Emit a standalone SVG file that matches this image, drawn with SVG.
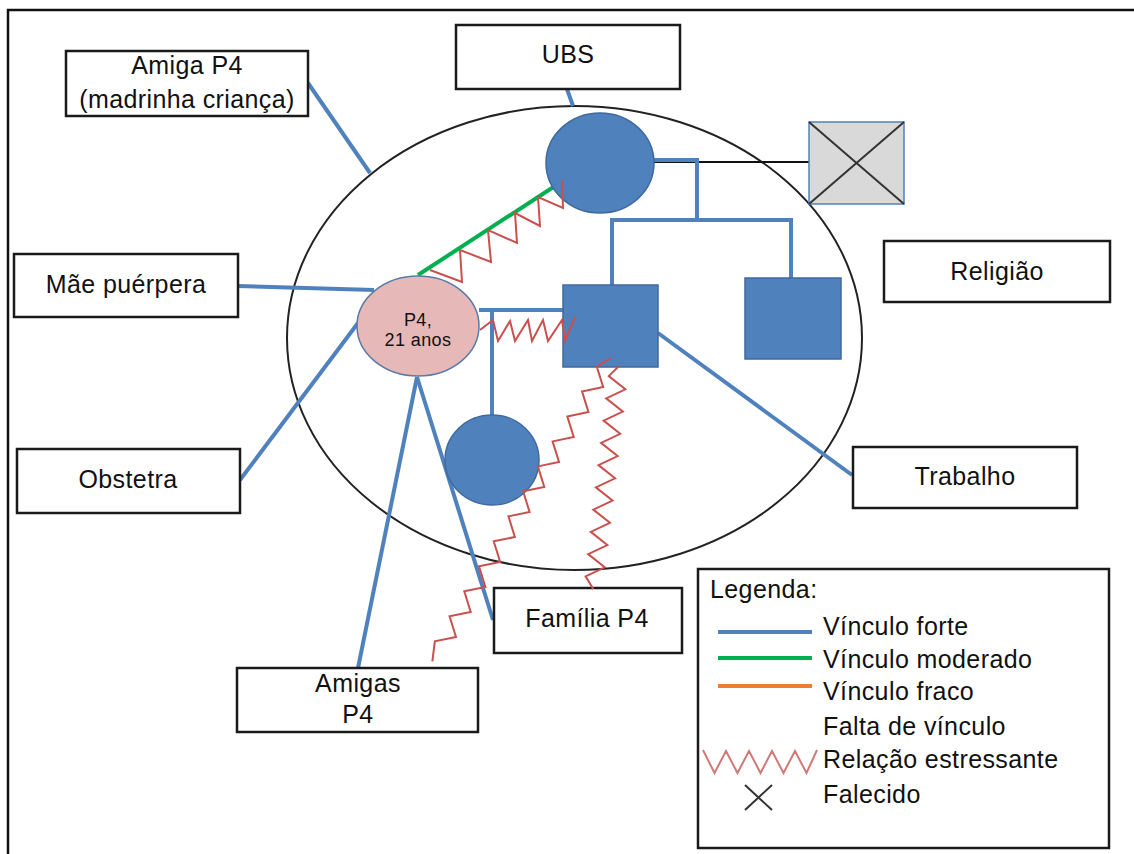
<svg xmlns="http://www.w3.org/2000/svg" width="1134" height="854" viewBox="0 0 1134 854">
  <style>
    text { font-family: "Liberation Sans", Arial, sans-serif; font-size: 25px; fill: #111; letter-spacing: 0.4px; }
    .mid { text-anchor: middle; }
    .box { fill: #fff; stroke: #1a1a1a; stroke-width: 2.5; }
    .strong { stroke: #4f81bd; stroke-width: 4; fill: none; stroke-linecap: butt; }
    .moderate { stroke: #00b050; stroke-width: 4; fill: none; }
    .weak { stroke: #ed7d31; stroke-width: 4; fill: none; }
    .stress { stroke: #c9504d; stroke-width: 2; fill: none; stroke-linejoin: miter; }
    .member { fill: #4f81bd; stroke: #3f6a9e; stroke-width: 1.5; }
  </style>

  <!-- page frame and household boundary -->
  <rect x="8" y="10" width="1200" height="900" fill="none" stroke="#111" stroke-width="2.5"/>
  <ellipse cx="574.5" cy="338" rx="287.5" ry="232" fill="none" stroke="#222" stroke-width="2"/>

  <!-- links -->
  <g id="connectors">
    <line class="strong" x1="308" y1="83" x2="370" y2="173"/>
    <line class="strong" x1="567" y1="89" x2="573" y2="106"/>
    <line class="strong" x1="238" y1="286" x2="374" y2="290"/>
    <line class="strong" x1="240" y1="480" x2="358" y2="323"/>
    <line class="strong" x1="417" y1="377" x2="358" y2="668"/>
    <line class="strong" x1="417" y1="377" x2="493" y2="620"/>
    <line class="strong" x1="479" y1="310" x2="563" y2="310"/>
    <line class="strong" x1="492" y1="308" x2="492" y2="416"/>
    <line class="strong" x1="658" y1="333" x2="852" y2="475"/>
    <!-- family tree -->
    <line x1="654" y1="162" x2="809" y2="162" stroke="#111" stroke-width="2"/>
    <line class="strong" x1="654" y1="160" x2="699" y2="160"/>
    <line class="strong" x1="697" y1="158" x2="697" y2="222"/>
    <line class="strong" x1="610" y1="220" x2="793" y2="220"/>
    <line class="strong" x1="612" y1="218" x2="612" y2="286"/>
    <line class="strong" x1="791" y1="218" x2="791" y2="279"/>
    <line class="moderate" x1="418" y1="275" x2="555" y2="186"/>
  </g>

  <!-- people -->
  <g id="ubs-mother">
    <ellipse class="member" cx="600" cy="163" rx="54" ry="50"/>
  </g>
  <g id="deceased">
    <rect x="809" y="122" width="95" height="82" fill="#d9d9d9" stroke="#4f81bd" stroke-width="1.5"/>
    <line x1="809" y1="122" x2="904" y2="204" stroke="#333" stroke-width="2"/>
    <line x1="904" y1="122" x2="809" y2="204" stroke="#333" stroke-width="2"/>
  </g>
  <g id="partner">
    <rect class="member" x="563" y="285" width="95" height="82"/>
  </g>
  <g id="brother">
    <rect class="member" x="745" y="278" width="96" height="81"/>
  </g>
  <g id="child">
    <ellipse class="member" cx="492" cy="460" rx="47" ry="45"/>
  </g>
  <g id="p4">
    <ellipse cx="418" cy="326" rx="61" ry="50" fill="#e6b9b8" stroke="#5a7aa8" stroke-width="1.5"/>
    <text class="mid" x="418" y="326" style="font-size:18px">P4,</text>
    <text class="mid" x="418" y="346" style="font-size:18px">21 anos</text>
  </g>

  <!-- external boxes -->
  <g id="amiga">
    <rect class="box" x="66" y="51" width="242" height="65"/>
    <text class="mid" x="187" y="74">Amiga P4</text>
    <text class="mid" x="187" y="108">(madrinha criança)</text>
  </g>
  <g id="ubs">
    <rect class="box" x="456" y="25" width="224" height="64"/>
    <text class="mid" x="568" y="63">UBS</text>
  </g>
  <g id="mae">
    <rect class="box" x="14" y="254" width="224" height="63"/>
    <text class="mid" x="126" y="293">Mãe puérpera</text>
  </g>
  <g id="obstetra">
    <rect class="box" x="17" y="449" width="223" height="64"/>
    <text class="mid" x="128" y="488">Obstetra</text>
  </g>
  <g id="amigas">
    <rect class="box" x="237" y="668" width="241" height="64"/>
    <text class="mid" x="358" y="692">Amigas</text>
    <text class="mid" x="358" y="723">P4</text>
  </g>
  <g id="familia">
    <rect class="box" x="494" y="588" width="188" height="65"/>
    <text class="mid" x="587" y="627">Família P4</text>
  </g>
  <g id="religiao">
    <rect class="box" x="884" y="241" width="226" height="61"/>
    <text class="mid" x="997" y="280">Religião</text>
  </g>
  <g id="trabalho">
    <rect class="box" x="853" y="447" width="224" height="61"/>
    <text class="mid" x="965" y="485">Trabalho</text>
  </g>

  <!-- stressful relations, drawn over the people -->
  <g id="stress-links">
    <polyline class="stress" points="430,270 462,282 460,250 491,262 488,230 517,243 515,213 540,226 538,197 563,208 562,180"/>
    <polyline class="stress" points="480,330 493,320 498,341 510,321 515,341 528,320 532,341 543,320 548,341 562,320 565,341 575,317"/>
    <polyline class="stress" transform="translate(611,358) rotate(120.5)" points="0,0 14.5,8 29,-8 43.5,8 58,-8 72.5,8 87,-8 101.5,8 116,-8 130.5,8 145,-8 159.5,8 174,-8 188.5,8 203,-8 217.5,8 232,-8 246.5,8 261,-8 275.5,8 290,-8 304.5,8 319,-8 333.5,8 352,0"/>
    <polyline class="stress" transform="translate(619,366) rotate(96.6)" points="0,0 11.2,9 22.4,-9 33.6,9 44.8,-9 56,9 67.2,-9 78.4,9 89.6,-9 100.8,9 112,-9 123.2,9 134.4,-9 145.6,9 156.8,-9 168,9 179.2,-9 190.4,9 201.6,-9 212.8,9 224.4,0"/>
  </g>

  <!-- legend -->
  <g id="legend">
    <rect class="box" x="698" y="569" width="411" height="279"/>
    <text x="710" y="598">Legenda:</text>
    <line class="strong" x1="718" y1="632" x2="812" y2="632"/>
    <text x="823" y="635">Vínculo forte</text>
    <line class="moderate" x1="718" y1="658" x2="812" y2="658"/>
    <text x="823" y="668">Vínculo moderado</text>
    <line class="weak" x1="718" y1="686" x2="812" y2="686"/>
    <text x="823" y="700">Vínculo fraco</text>
    <text x="823" y="735">Falta de vínculo</text>
    <polyline class="stress" points="703,750 714.5,773 726,751 737.5,773 749,751 760.5,773 772,751 783.5,773 795,751 806.5,773 817,750" style="stroke:#d07a78"/>
    <text x="823" y="768">Relação estressante</text>
    <line x1="745" y1="785" x2="772" y2="810" stroke="#333" stroke-width="2"/>
    <line x1="772" y1="785" x2="745" y2="810" stroke="#333" stroke-width="2"/>
    <text x="823" y="803">Falecido</text>
  </g>
</svg>
